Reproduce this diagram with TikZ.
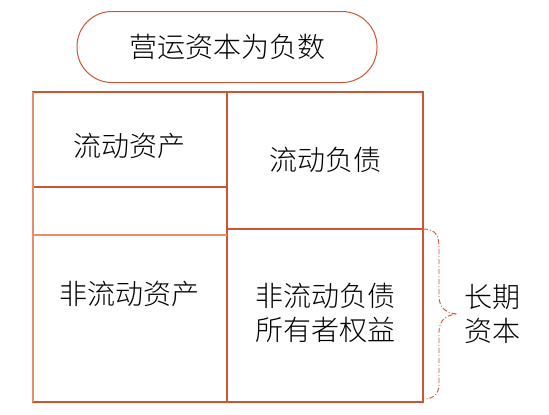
\documentclass[tikz,border=0pt]{standalone}
\usepackage{fontspec}
\newfontfamily\cjk[UprightFont={* Light}]{Noto Sans CJK SC}
\definecolor{wc_line}{RGB}{205, 85, 50}
\definecolor{wc_soft}{RGB}{232, 140, 110}
\usetikzlibrary{positioning}

\begin{document}
\begin{tikzpicture}[x=1pt, y=-1pt,
        cell/.style={draw=wc_line, line width=1.1pt},
        txt/.style={font=\cjk\fontsize{28}{34}\selectfont, align=center, inner sep=0pt},
        brc/.style={draw=wc_line, line width=0.9pt, dash pattern=on 5pt off 2pt on 1pt off 2pt},
      ]
        \useasboundingbox (0,0) rectangle (549,415);

        % Title
        \node[txt, draw=wc_line, line width=1pt, rounded corners=35pt,
              minimum width=300pt, minimum height=71pt] (title) at (227,47)
          {营运资本为负数};

        % Table
        \draw[cell] (33,92) rectangle (423,402);
        \draw[cell] (227,92) -- (227,402);
        \draw[cell] (33,187) -- (227,187);
        \draw[cell, draw=wc_soft] (33,235) -- (227,235);
        \draw[cell, draw=wc_soft] (33,92) -- (33,402);
        \draw[cell] (227,229) -- (423,229);

        \node[txt] (ca)  at (129,146) {流动资产};
        \node[txt] (cl)  at (325,160) {流动负债};
        \node[txt] (nca) at (129,294) {非流动资产};
        \node[txt] (ltf) at (325,313) {非流动负债\\所有者权益};

        % Brace
        \coordinate (btop) at (423,229);
        \coordinate (bbot) at (423,399);
        \coordinate (btip) at (457,314);
        \draw[brc] (btop) .. controls (436,229) and (439,236) .. (439,248)
          -- (439,296) .. controls (439,308) and (446,313) .. (btip)
          .. controls (446,315) and (439,320) .. (439,332)
          -- (439,384) .. controls (439,394) and (434,399) .. (bbot);
        \node[txt, right=7pt of btip] (ltc) {长期\\资本};
      \end{tikzpicture}
\end{document}
